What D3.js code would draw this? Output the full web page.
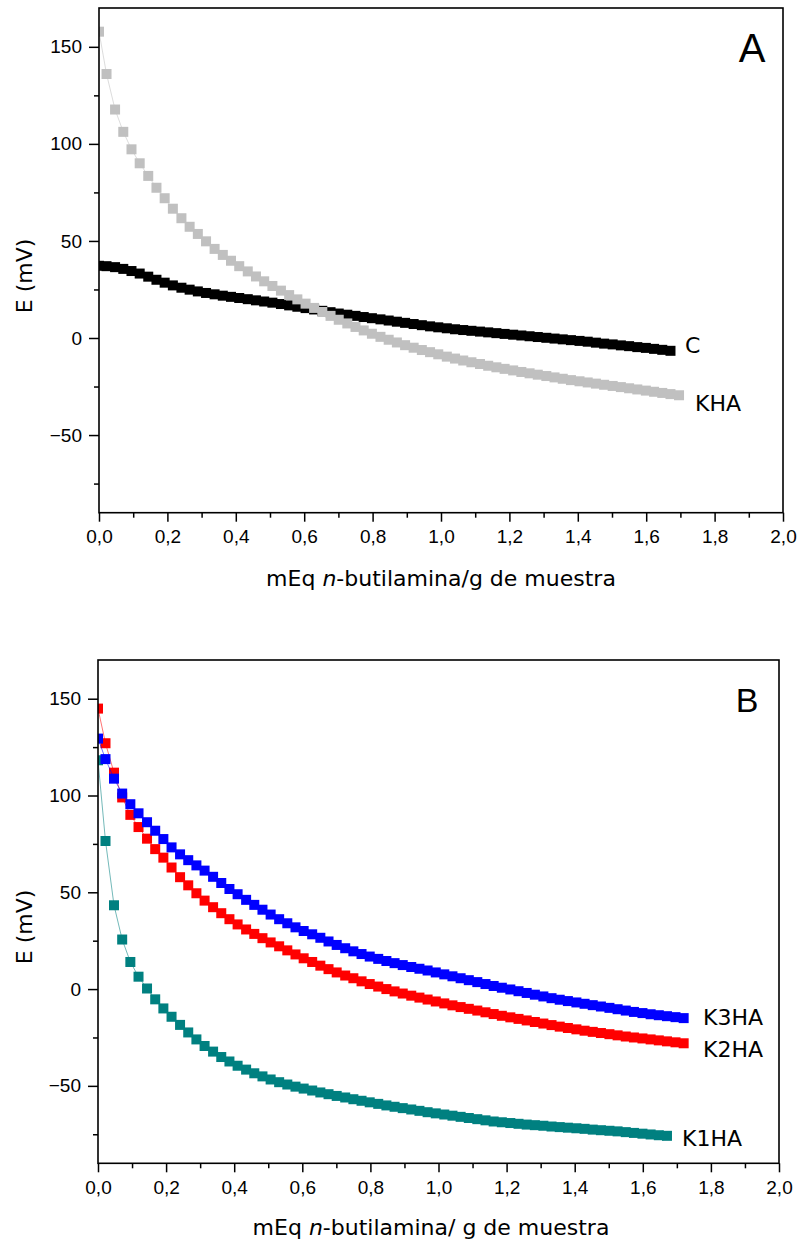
<!DOCTYPE html>
<html>
<head>
<meta charset="utf-8">
<script src="https://cdn.jsdelivr.net/npm/d3@7"></script>
<style>
    body { margin: 0; background: #fff; }
    svg { display: block; }
    .tick text { font-family: "Liberation Sans", Arial, sans-serif; font-size: 19px; fill: #000; }
    .title { font-family: "DejaVu Sans", Verdana, sans-serif; font-size: 22px; fill: #000; }
</style>
</head>
<body>
<div id="chart"></div>
<script>
// mEq n-butilamina / g for each titration point (same increments in both panels)
const mEq = [0, 0.022, 0.047, 0.071, 0.095, 0.119, 0.144, 0.168, 0.192, 0.216,
    0.241, 0.265, 0.289, 0.313, 0.338, 0.362, 0.386, 0.410, 0.435, 0.459,
    0.483, 0.507, 0.532, 0.556, 0.580, 0.604, 0.629, 0.653, 0.677, 0.701,
    0.726, 0.750, 0.774, 0.798, 0.823, 0.847, 0.871, 0.895, 0.920, 0.944,
    0.968, 0.992, 1.017, 1.041, 1.065, 1.089, 1.114, 1.138, 1.162, 1.186,
    1.211, 1.235, 1.259, 1.283, 1.308, 1.332, 1.356, 1.380, 1.405, 1.429,
    1.453, 1.477, 1.502, 1.526, 1.550, 1.574, 1.599, 1.623, 1.647, 1.671,
    1.696, 1.720];

// Panel A, E (mV)
const eC = [37.2, 37.0, 36.5, 35.6, 34.5, 33.2, 31.6, 30.0, 28.5, 27.1,
    25.9, 24.9, 24.0, 23.2, 22.5, 21.8, 21.2, 20.6, 20.0, 19.4,
    18.8, 18.2, 17.5, 16.8, 16.1, 15.4, 14.7, 14.0, 13.3, 12.6,
    12.0, 11.4, 10.8, 10.2, 9.6, 9.0, 8.4, 7.8, 7.2, 6.6,
    6.0, 5.5, 5.0, 4.5, 4.1, 3.7, 3.3, 2.9, 2.5, 2.1,
    1.7, 1.3, 0.9, 0.5, 0.1, -0.3, -0.7, -1.1, -1.5, -1.9,
    -2.4, -2.9, -3.3, -3.8, -4.2, -4.7, -5.1, -5.6, -6.1, -6.6];

const eKHA = [157.8, 136.0, 117.7, 106.2, 97.2, 90.0, 83.5, 77.4, 72.0, 66.6,
    61.7, 57.3, 53.6, 49.8, 45.9, 42.8, 39.8, 37.0, 34.3, 31.7,
    29.2, 26.8, 24.4, 22.1, 19.9, 17.7, 15.5, 13.4, 11.4, 9.4,
    7.5, 5.7, 3.9, 2.2, 0.6, -0.9, -2.3, -3.7, -5.0, -6.2,
    -7.3, -8.4, -9.6, -10.6, -11.6, -12.5, -13.4, -14.3, -15.1, -15.9,
    -16.7, -17.5, -18.2, -18.9, -19.6, -20.3, -21.0, -21.7, -22.3, -22.9,
    -23.5, -24.1, -24.7, -25.3, -25.9, -26.5, -27.1, -27.7, -28.3, -28.9,
    -29.5];

// Panel B, E (mV)
const eK1HA = [118.2, 76.5, 43.3, 25.6, 14.0, 6.4, 0.3, -5.3, -10.0, -14.3,
    -18.5, -22.4, -26.0, -29.4, -32.3, -35.1, -37.4, -39.6, -41.6, -43.5,
    -45.1, -46.7, -48.1, -49.3, -50.4, -51.4, -52.4, -53.4, -54.3, -55.2,
    -56.0, -56.9, -57.7, -58.5, -59.3, -60.1, -60.8, -61.5, -62.2, -62.9,
    -63.6, -64.2, -64.8, -65.4, -66.0, -66.6, -67.2, -67.8, -68.4, -68.8,
    -69.2, -69.6, -70.0, -70.3, -70.6, -71.0, -71.3, -71.6, -71.9, -72.2,
    -72.6, -72.9, -73.2, -73.5, -73.9, -74.3, -74.7, -75.1, -75.5, -75.8];

const eK2HA = [144.9, 127.0, 111.8, 99.0, 90.0, 83.7, 77.7, 72.3, 67.9, 62.8,
    57.8, 53.6, 49.5, 45.7, 42.3, 39.2, 36.1, 33.4, 30.8, 28.5,
    26.3, 24.1, 22.1, 20.0, 17.9, 15.9, 14.0, 12.1, 10.3, 8.6,
    7.0, 5.6, 4.0, 2.6, 1.3, 0.0, -1.2, -2.3, -3.4, -4.4,
    -5.4, -6.4, -7.4, -8.4, -9.3, -10.2, -11.1, -12.0, -12.9, -13.8,
    -14.6, -15.4, -16.2, -17.0, -17.8, -18.6, -19.4, -20.1, -20.8, -21.5,
    -22.1, -22.7, -23.3, -23.9, -24.5, -25.0, -25.5, -26.0, -26.5, -27.0,
    -27.5, -28.0];

const eK3HA = [129.4, 118.8, 108.7, 101.0, 95.5, 90.8, 86.2, 81.8, 77.5, 73.2,
    69.6, 66.6, 63.9, 61.2, 58.0, 54.8, 51.7, 49.0, 46.1, 43.5,
    41.0, 38.5, 36.1, 34.0, 31.9, 30.0, 28.3, 26.5, 24.6, 22.8,
    21.1, 19.5, 18.1, 16.8, 15.6, 14.5, 13.4, 12.4, 11.4, 10.5,
    9.6, 8.6, 7.6, 6.6, 5.6, 4.6, 3.6, 2.6, 1.6, 0.7,
    -0.2, -1.1, -2.0, -2.9, -3.8, -4.7, -5.5, -6.2, -6.9, -7.6,
    -8.3, -9.0, -9.7, -10.4, -11.1, -11.8, -12.4, -13.0, -13.5, -14.0,
    -14.5, -15.0];

const xTicks = [0, 0.2, 0.4, 0.6, 0.8, 1.0, 1.2, 1.4, 1.6, 1.8, 2.0];
const xMinorTicks = [0.1, 0.3, 0.5, 0.7, 0.9, 1.1, 1.3, 1.5, 1.7, 1.9];
const yTicks = [-50, 0, 50, 100, 150];
const yMinorTicks = [-75, -25, 25, 75, 125];
const yDomain = [-90, 170];

const svg = d3.select('#chart').append('svg')
    .attr('width', 798)
    .attr('height', 1243);

const fmtX = d => d3.format('.1f')(d).replace('.', ',');

function drawPanel(cfg) {
    const x = d3.scaleLinear([0, 2], [cfg.left, cfg.right]);
    const y = d3.scaleLinear(yDomain, [cfg.bottom, cfg.top]);
    const g = svg.append('g');

    g.append('clipPath').attr('id', cfg.id)
        .append('rect')
        .attr('x', cfg.left).attr('y', cfg.top)
        .attr('width', cfg.right - cfg.left).attr('height', cfg.bottom - cfg.top);

    // Axes: major with labels, minor without
    g.append('g').attr('transform', `translate(0,${cfg.bottom})`)
        .call(d3.axisBottom(x).tickValues(xTicks).tickFormat(fmtX).tickSize(9).tickPadding(8))
        .call(a => a.select('.domain').remove());
    g.append('g').attr('transform', `translate(0,${cfg.bottom})`)
        .call(d3.axisBottom(x).tickValues(xMinorTicks).tickFormat('').tickSize(5))
        .call(a => a.select('.domain').remove());
    g.append('g').attr('transform', `translate(${cfg.left},0)`)
        .call(d3.axisLeft(y).tickValues(yTicks).tickSize(10).tickPadding(7))
        .call(a => a.select('.domain').remove());
    g.append('g').attr('transform', `translate(${cfg.left},0)`)
        .call(d3.axisLeft(y).tickValues(yMinorTicks).tickFormat('').tickSize(5))
        .call(a => a.select('.domain').remove());
    g.selectAll('.tick line').attr('stroke', '#000').attr('stroke-width', 1.5);

    // Series: thin connecting line then square markers
    const plot = g.append('g').attr('clip-path', `url(#${cfg.id})`);
    const line = d3.line().x(d => x(d.x)).y(d => y(d.y));

    cfg.series.forEach(s => {
        const pts = s.values.map((v, i) => ({ x: mEq[i], y: v }));
        plot.append('path')
            .attr('d', line(pts))
            .attr('fill', 'none')
            .attr('stroke', s.color)
            .attr('stroke-opacity', 0.55)
            .attr('stroke-width', 1);
        plot.selectAll(null).data(pts).join('rect')
            .attr('x', d => x(d.x) - 5)
            .attr('y', d => y(d.y) - 5)
            .attr('width', 10)
            .attr('height', 10)
            .attr('fill', s.color);

        g.append('text').attr('class', 'title')
            .attr('x', s.lx).attr('y', s.ly)
            .attr('fill', s.labelColor || '#000')
            .text(s.name);
    });

    // Frame
    g.append('rect')
        .attr('x', cfg.left).attr('y', cfg.top)
        .attr('width', cfg.right - cfg.left).attr('height', cfg.bottom - cfg.top)
        .attr('fill', 'none').attr('stroke', '#000').attr('stroke-width', 1.6);

    // Panel letter
    g.append('text')
        .attr('x', cfg.letterX).attr('y', cfg.letterY)
        .attr('text-anchor', 'middle')
        .style('font-family', '"Liberation Sans", Arial, sans-serif')
        .style('font-size', cfg.letterSize + 'px')
        .text(cfg.letter);

    // Axis titles
    const xt = g.append('text').attr('class', 'title')
        .attr('x', cfg.xTitleX).attr('y', cfg.xTitleY)
        .attr('text-anchor', 'middle');
    xt.append('tspan').text('mEq ');
    xt.append('tspan').style('font-style', 'italic').text('n');
    xt.append('tspan').text(cfg.xTitleRest);

    g.append('text').attr('class', 'title')
        .attr('transform', `translate(32,${cfg.yTitleY}) rotate(-90)`)
        .attr('text-anchor', 'middle')
        .text('E (mV)');
}

drawPanel({
    id: 'clipA', left: 99, right: 783, top: 8, bottom: 512.7,
    letter: 'A', letterX: 752, letterY: 62, letterSize: 40,
    xTitleX: 441, xTitleY: 586, xTitleRest: '-butilamina/g de muestra', yTitleY: 276,
    series: [
        { name: 'C', values: eC, color: '#000000', labelColor: '#7a1e3a', lx: 685, ly: 353 },
        { name: 'KHA', values: eKHA, color: '#c0c0c0', lx: 695, ly: 411 }
    ]
});

drawPanel({
    id: 'clipB', left: 98, right: 779, top: 660, bottom: 1163.3,
    letter: 'B', letterX: 747, letterY: 712, letterSize: 34,
    xTitleX: 431, xTitleY: 1235, xTitleRest: '-butilamina/ g de muestra', yTitleY: 927,
    series: [
        { name: 'K1HA', values: eK1HA, color: '#008080', lx: 682, ly: 1146 },
        { name: 'K2HA', values: eK2HA, color: '#ff0000', lx: 703, ly: 1057 },
        { name: 'K3HA', values: eK3HA, color: '#0000ff', lx: 703, ly: 1025 }
    ]
});
</script>
</body>
</html>
